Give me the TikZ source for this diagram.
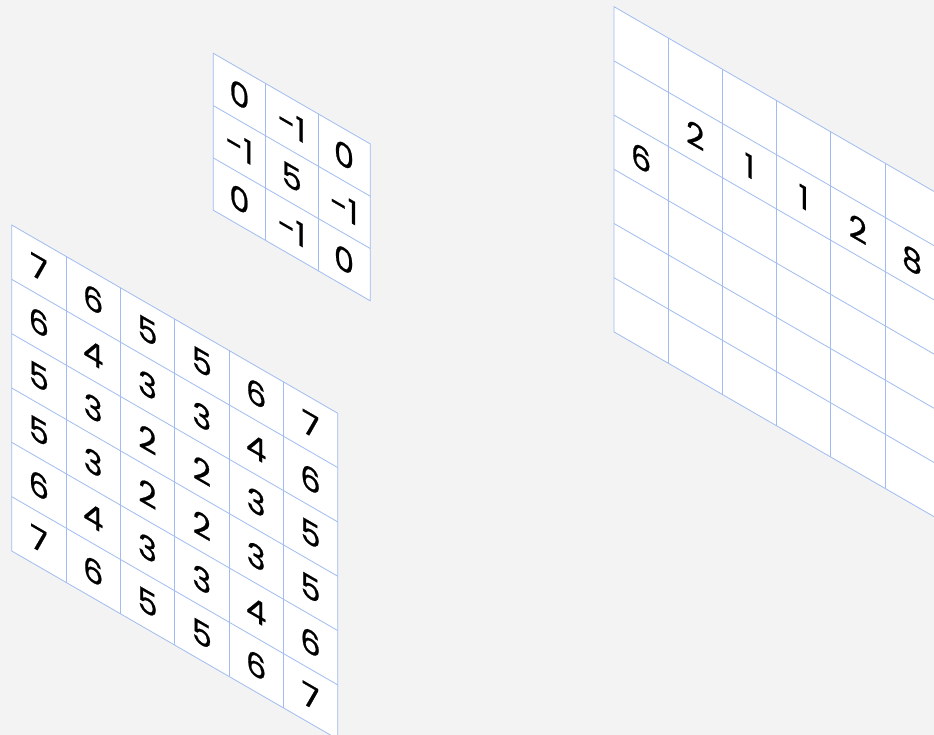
\documentclass[tikz,border=0pt]{standalone}
\usepackage{fontspec}
\setmainfont{Poppins}
\newfontfamily\numfont{Poppins}[FakeBold=0.6]
\definecolor{gridblue}{RGB}{160,188,240}
\definecolor{paper}{RGB}{243,243,243}
\tikzset{
  cellline/.style={draw=gridblue,line width=0.8pt},
  cellnum/.style={font=\numfont\fontsize{32}{32}\selectfont,inner sep=0pt},
}
\begin{document}
\begin{tikzpicture}[x=1pt,y=1pt]
\fill[paper] (0,0) rectangle (934,-735);
\clip (0,0) rectangle (934,-735);
% input matrix
\begin{scope}[shift={(11.7,-225)},yslant=-0.5774,transform shape,x=54.33pt,y=54.33pt]
\filldraw[fill=white,cellline] (0,0) rectangle (6,-6);
\foreach \k in {1,...,5}{\draw[cellline] (\k,0)--(\k,-6); \draw[cellline] (0,-\k)--(6,-\k);}
\foreach \r [count=\j from 0] in {{7,6,5,5,6,7},{6,4,3,3,4,6},{5,3,2,2,3,5},{5,3,2,2,3,5},{6,4,3,3,4,6},{7,6,5,5,6,7}}{
  \foreach \v [count=\i from 0] in \r {\node[cellnum] (in-\i-\j) at (\i+0.5,-\j-0.5) {\v};}}
\end{scope}
% kernel
\begin{scope}[shift={(213.3,-53.3)},yslant=-0.5774,transform shape,x=52.3pt,y=52.3pt]
\filldraw[fill=white,cellline] (0,0) rectangle (3,-3);
\foreach \k in {1,2}{\draw[cellline] (\k,0)--(\k,-3); \draw[cellline] (0,-\k)--(3,-\k);}
\foreach \r [count=\j from 0] in {{0,-1,0},{-1,5,-1},{0,-1,0}}{
  \foreach \v [count=\i from 0] in \r {\node[cellnum] (ker-\i-\j) at (\i+0.5,-\j-0.5) {\v};}}
\end{scope}
% output matrix
\begin{scope}[shift={(614,-6.7)},yslant=-0.5774,transform shape,x=54.2pt,y=54.2pt]
\filldraw[fill=white,cellline] (0,0) rectangle (6,-6);
\foreach \k in {1,...,5}{\draw[cellline] (\k,0)--(\k,-6); \draw[cellline] (0,-\k)--(6,-\k);}
\node[cellnum] (out-0-2) at (0.5,-2.5) {6};
\foreach \v/\i in {2/1,1/2,1/3,2/4,8/5}{\node[cellnum] (out-\i-1) at (\i+0.5,-1.5) {\v};}
\end{scope}
\end{tikzpicture}
\end{document}
